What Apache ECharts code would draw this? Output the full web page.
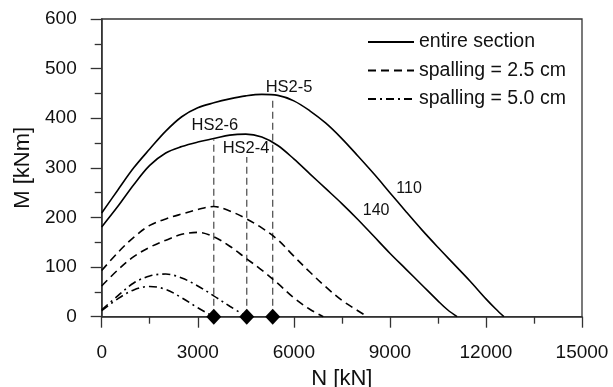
<!DOCTYPE html>
<html>
<head>
<meta charset="utf-8">
<script src="https://cdn.jsdelivr.net/npm/echarts@6/dist/echarts.min.js"></script>
<style>
  html, body { margin: 0; padding: 0; background: #fff; }
  #chart { width: 613px; height: 387px; }
</style>
</head>
<body>
<div id="chart"></div>
<script>
// Interaction diagrams: axial force N [kN] vs. bending moment M [kNm]
const FONT = 'Liberation Sans, Arial, Helvetica, sans-serif';

// Entire section, 110 and 140
const solid110N = [0, 500, 1000, 1500, 2000, 2500, 3000, 3500, 4000, 4500, 5000, 5500, 6000, 6500, 7000, 7500, 8000, 8500, 9000, 9500, 10000, 10500, 11000, 11500, 12000, 12300, 12560];
const solid110M = [209, 255, 300, 338, 374, 403, 421, 431, 439, 445, 448, 446, 435, 415, 390, 359, 324, 288, 250, 212, 175, 140, 106, 72, 36, 16, 0];
const solid140N = [0, 500, 1000, 1500, 2000, 2500, 3000, 3500, 4000, 4500, 5000, 5500, 6000, 6500, 7000, 7500, 8000, 8500, 9000, 9500, 10000, 10500, 10800, 11100];
const solid140M = [181, 222, 266, 305, 330, 343, 352, 359, 366, 368, 362, 345, 318, 288, 258, 228, 196, 162, 128, 96, 64, 32, 14, 0];

// Spalling = 2.5 cm
const sp25aN = [0, 500, 1000, 1500, 2000, 2500, 3000, 3500, 4000, 4500, 5000, 5500, 6000, 6500, 7000, 7500, 8000, 8300];
const sp25aM = [93, 129, 160, 184, 197, 207, 216, 222, 213, 198, 179, 155, 122, 90, 60, 33, 12, 0];
const sp25bN = [0, 500, 1000, 1500, 2000, 2500, 3000, 3500, 4000, 4500, 5000, 5500, 6000, 6500, 6920];
const sp25bM = [62, 94, 121, 140, 154, 166, 170, 161, 142, 118, 94, 67, 38, 15, 0];

// Spalling = 5.0 cm
const sp50aN = [0, 500, 1000, 1500, 2000, 2500, 3000, 3500, 4000, 4530];
const sp50aM = [14, 42, 68, 82, 86, 78, 62, 42, 21, 0];
const sp50bN = [0, 500, 1000, 1500, 2000, 2500, 3000, 3500];
const sp50bM = [12, 36, 54, 61, 55, 38, 18, 0];

// Test specimens
const testNames = ['HS2-6', 'HS2-4', 'HS2-5'];
const testN = [3500, 4530, 5340];
const testLineTop = [357, 322, 437];
const testLabelN = [3534, 4507, 5850];
const testLabelM = [386, 340, 462];

// Curve annotations
const curveNames = ['110', '140'];
const curveLabelN = [9600, 8570];
const curveLabelM = [259, 213];

// Axis ticks
const xTicks = [0, 3000, 6000, 9000, 12000, 15000];
const yTicks = [0, 100, 200, 300, 400, 500, 600];

const legendNames = ['entire section', 'spalling = 2.5 cm', 'spalling = 5.0 cm'];

const zip = (a, b) => a.map((v, i) => [v, b[i]]);

function curve(name, xs, ys, type) {
  return {
    name: name,
    type: 'line',
    data: zip(xs, ys),
    symbol: 'none',
    smooth: 0.35,
    itemStyle: { color: '#000' },
    lineStyle: { color: '#000', width: 1.6, type: type },
    z: 3
  };
}

const series = [
  curve(legendNames[0], solid110N, solid110M, 'solid'),
  curve(legendNames[0], solid140N, solid140M, 'solid'),
  curve(legendNames[1], sp25aN, sp25aM, [8, 5]),
  curve(legendNames[1], sp25bN, sp25bM, [8, 5]),
  curve(legendNames[2], sp50aN, sp50aM, [8, 4, 2, 4]),
  curve(legendNames[2], sp50bN, sp50bM, [8, 4, 2, 4])
];

// Vertical markers for the specimens
testN.forEach((n, i) => {
  series.push({
    type: 'line',
    data: [[n, 0], [n, testLineTop[i]]],
    symbol: 'none',
    lineStyle: { color: '#555', width: 1.3, type: [7, 4] },
    z: 2,
    silent: true
  });
});

// Diamonds on the N axis
series.push({
  type: 'scatter',
  data: testN.map(n => [n, 0]),
  symbol: 'diamond',
  symbolSize: [15, 16],
  itemStyle: { color: '#000', opacity: 1 },
  clip: false,
  z: 10,
  silent: true
});

const textLabel = (size) => ({
  show: true, position: [0, 0], align: 'center', verticalAlign: 'middle',
  formatter: p => p.name,
  color: '#111', fontSize: size, fontFamily: FONT,
  textBorderWidth: 0
});

// Specimen names
series.push({
  type: 'scatter',
  data: testNames.map((s, i) => ({ value: [testLabelN[i], testLabelM[i]], name: s })),
  symbolSize: 0,
  itemStyle: { opacity: 1 },
  label: textLabel(16.5),
  silent: true
});

// Curve names
series.push({
  type: 'scatter',
  data: curveNames.map((s, i) => ({ value: [curveLabelN[i], curveLabelM[i]], name: s })),
  symbolSize: 0,
  itemStyle: { opacity: 1 },
  label: textLabel(16),
  silent: true
});

const chart = echarts.init(document.getElementById('chart'), null, { renderer: 'canvas' });
chart.setOption({
  animation: false,
  backgroundColor: '#fff',
  textStyle: { fontFamily: FONT },
  grid: {
    left: 101.7, right: 31, top: 19, bottom: 70.3,
    outerBoundsMode: 'none', containLabel: false,
    show: true, borderColor: '#333', borderWidth: 1.3, backgroundColor: 'transparent'
  },
  legend: {
    data: legendNames,
    orient: 'vertical',
    left: 362, top: 27,
    itemWidth: 46, itemHeight: 18, itemGap: 8.5,
    itemStyle: { opacity: 0 },
    textStyle: { fontSize: 19.5, color: '#111', fontFamily: FONT },
    selectedMode: false
  },
  xAxis: {
    type: 'value', min: 0, max: 15000, interval: 3000,
    name: 'N [kN]', nameLocation: 'middle', nameGap: 50,
    nameTextStyle: { fontSize: 22, color: '#111', fontFamily: FONT },
    axisLine: { show: true, lineStyle: { color: '#333', width: 1.5 } },
    axisTick: { show: true, length: 11, lineStyle: { color: '#333', width: 1.3 } },
    minorTick: { show: true, splitNumber: 2, length: 7, lineStyle: { color: '#333', width: 1.3 } },
    axisLabel: { fontSize: 19, color: '#111', margin: 27, fontFamily: FONT,
      formatter: v => xTicks.includes(v) ? String(v) : '' },
    splitLine: { show: false }
  },
  yAxis: {
    type: 'value', min: 0, max: 600, interval: 100,
    name: 'M [kNm]', nameLocation: 'middle', nameGap: 64,
    nameTextStyle: { fontSize: 22, color: '#111', fontFamily: FONT },
    axisLine: { show: true, lineStyle: { color: '#333', width: 1.5 } },
    axisTick: { show: true, length: 11, lineStyle: { color: '#333', width: 1.3 } },
    minorTick: { show: true, splitNumber: 2, length: 7, lineStyle: { color: '#333', width: 1.3 } },
    axisLabel: { fontSize: 19, color: '#111', margin: 25, fontFamily: FONT,
      formatter: v => yTicks.includes(v) ? String(v) : '' },
    splitLine: { show: false }
  },
  series: series
});
</script>
</body>
</html>
